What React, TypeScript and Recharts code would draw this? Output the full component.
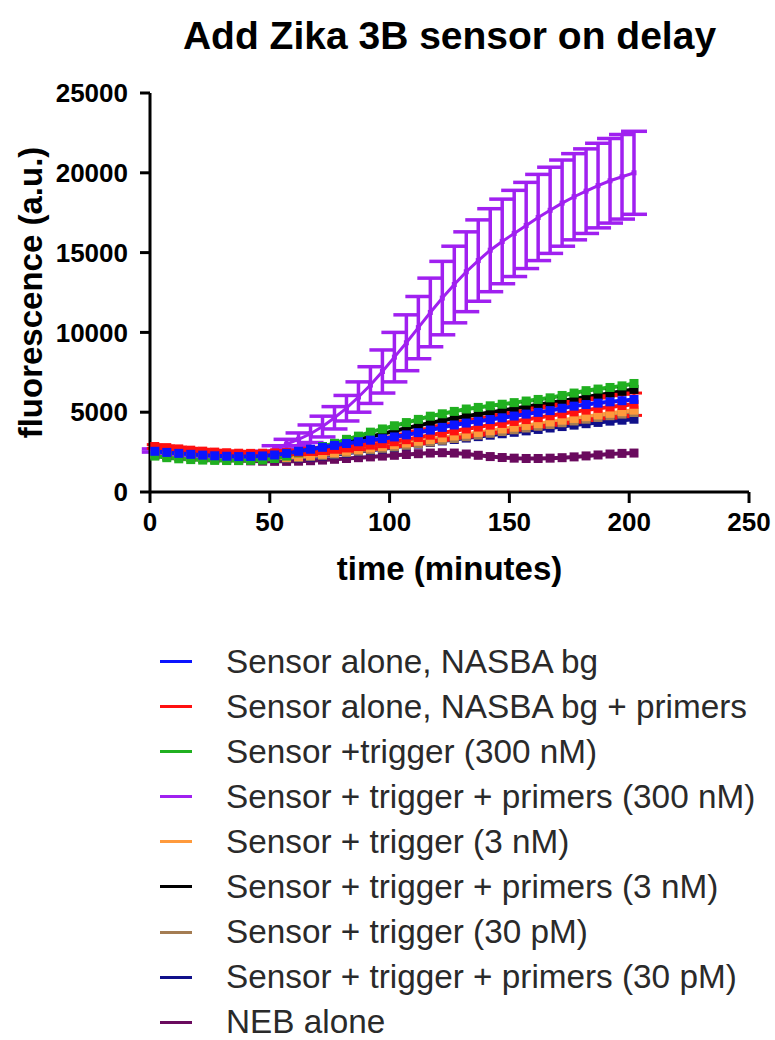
import React from "react";
import { LineChart, Line, XAxis, YAxis, ErrorBar, Legend, Label } from "recharts";

const FONT = "'Liberation Sans', Arial, Helvetica, sans-serif";

// minutes
const times = [
  2, 7, 12, 17, 22, 27, 32, 37, 42, 47, 52, 57, 62, 67, 72, 77, 82, 87, 92, 97, 102,
  107, 112, 117, 122, 127, 132, 137, 142, 147, 152, 157, 162, 167, 172, 177, 182, 187,
  192, 197, 202,
];

const sensorAlone = [
  2550, 2480, 2420, 2360, 2310, 2270, 2240, 2220, 2230, 2260, 2320, 2420, 2550, 2680,
  2800, 2920, 3040, 3150, 3250, 3340, 3450, 3580, 3720, 3880, 4050, 4200, 4320, 4430,
  4540, 4650, 4760, 4880, 4990, 5100, 5250, 5380, 5480, 5570, 5650, 5720, 5800,
];
const sensorPrimers = [
  2850, 2780, 2700, 2620, 2560, 2500, 2460, 2430, 2420, 2430, 2450, 2480, 2500, 2540,
  2600, 2680, 2760, 2850, 2940, 3030, 3150, 3280, 3420, 3560, 3700, 3830, 3950, 4070,
  4190, 4300, 4420, 4540, 4660, 4780, 4900, 5020, 5130, 5240, 5330, 5420, 5500,
];
const sensorPrimersErr = [
  120, 120, 120, 120, 120, 120, 120, 120, 120, 120, 120, 120, 120, 200, 200, 200, 200,
  200, 250, 250, 300, 350, 400, 400, 450, 450, 500, 500, 500, 550, 550, 550, 600, 600,
  600, 650, 650, 650, 700, 700, 700,
];
const trigger300 = [
  2250, 2150, 2080, 2030, 2000, 1980, 1970, 1970, 1980, 2000, 2100, 2250, 2450, 2650,
  2850, 3050, 3300, 3500, 3750, 3950, 4150, 4350, 4550, 4750, 4900, 5050, 5200, 5300,
  5400, 5500, 5600, 5700, 5800, 5900, 6050, 6200, 6350, 6450, 6550, 6650, 6800,
];
const triggerPrimers300 = [
  2600, 2500, 2420, 2360, 2310, 2270, 2250, 2250, 2290, 2420, 2700, 3000, 3300, 3650,
  4100, 4650, 5250, 5950, 6700, 7550, 8450, 9350, 10300, 11250, 12150, 13000, 13800,
  14500, 15150, 15700, 16200, 16700, 17200, 17650, 18100, 18500, 18850, 19200, 19500,
  19750, 20000,
];
const triggerPrimers300Err = [
  100, 90, 80, 80, 80, 80, 80, 90, 100, 130, 200, 300, 400, 550, 650, 700, 800, 950,
  1150, 1350, 1550, 1750, 1950, 2150, 2300, 2400, 2500, 2550, 2600, 2650, 2700, 2700,
  2700, 2700, 2700, 2700, 2650, 2650, 2650, 2650, 2600,
];
const trigger3 = [
  2400, 2320, 2250, 2200, 2160, 2130, 2110, 2100, 2100, 2110, 2130, 2170, 2220, 2290,
  2370, 2460, 2560, 2660, 2760, 2860, 2960, 3070, 3180, 3290, 3400, 3510, 3620, 3730,
  3840, 3950, 4060, 4170, 4280, 4390, 4500, 4610, 4720, 4830, 4930, 5030, 5130,
];
const triggerPrimers3 = [
  2400, 2330, 2270, 2220, 2180, 2150, 2130, 2120, 2130, 2160, 2220, 2320, 2450, 2600,
  2760, 2930, 3100, 3280, 3460, 3640, 3820, 4000, 4170, 4330, 4480, 4620, 4750, 4870,
  4990, 5110, 5230, 5350, 5470, 5590, 5710, 5830, 5950, 6070, 6190, 6310, 6430,
];
const trigger30p = [
  2350, 2280, 2220, 2170, 2130, 2100, 2080, 2070, 2070, 2080, 2100, 2130, 2170, 2230,
  2300, 2380, 2470, 2560, 2650, 2740, 2830, 2930, 3030, 3130, 3240, 3350, 3460, 3570,
  3680, 3790, 3900, 4010, 4120, 4230, 4340, 4450, 4560, 4670, 4780, 4880, 4980,
];
const triggerPrimers30p = [
  2350, 2290, 2230, 2180, 2140, 2110, 2090, 2080, 2080, 2080, 2090, 2110, 2140, 2190,
  2260, 2340, 2430, 2520, 2610, 2700, 2800, 2900, 3000, 3100, 3200, 3290, 3380, 3470,
  3560, 3650, 3740, 3830, 3920, 4010, 4100, 4190, 4280, 4360, 4440, 4500, 4560,
];
const nebAlone = [
  2300, 2250, 2200, 2150, 2100, 2050, 2000, 1970, 1950, 1930, 1920, 1920, 1930, 1960,
  2000, 2050, 2100, 2150, 2200, 2250, 2300, 2350, 2400, 2440, 2460, 2440, 2380, 2300,
  2220, 2160, 2120, 2100, 2100, 2120, 2150, 2200, 2260, 2320, 2380, 2420, 2440,
];

const seriesKeys = ["s1", "s2", "s3", "s4", "s5", "s6", "s7", "s8", "s9"];
const seriesNames = [
  "Sensor alone, NASBA bg",
  "Sensor alone, NASBA bg + primers",
  "Sensor +trigger (300 nM)",
  "Sensor + trigger + primers (300 nM)",
  "Sensor + trigger (3 nM)",
  "Sensor + trigger + primers (3 nM)",
  "Sensor + trigger (30 pM)",
  "Sensor + trigger + primers (30 pM)",
  "NEB alone",
];
const seriesColors = [
  "#0a14ff",
  "#ff1010",
  "#20b020",
  "#a020f0",
  "#ff9a3c",
  "#000000",
  "#a47c52",
  "#10108a",
  "#6a0a5e",
];
const seriesValues = [
  sensorAlone,
  sensorPrimers,
  trigger300,
  triggerPrimers300,
  trigger3,
  triggerPrimers3,
  trigger30p,
  triggerPrimers30p,
  nebAlone,
];

const xTicks = [0, 50, 100, 150, 200, 250];
const yTicks = [0, 5000, 10000, 15000, 20000, 25000];

const data = times.map((t, i) => {
  const row: Record<string, number> = { t, s2err: sensorPrimersErr[i], s4err: triggerPrimers300Err[i] };
  seriesKeys.forEach((k, j) => {
    row[k] = seriesValues[j][i];
  });
  return row;
});

// GraphPad draws the first data set on top, so render in reverse
const drawOrder = [8, 7, 6, 5, 4, 3, 2, 1, 0];

const SquareDot = (size: number) => (props: any) => {
  const { cx, cy, stroke, index } = props;
  if (cx == null || cy == null) return <g key={index} />;
  return <rect key={index} x={cx - size / 2} y={cy - size / 2} width={size} height={size} fill={stroke} />;
};

const YLabel = (props: any) => {
  const { viewBox } = props;
  const cx = 30;
  const cy = viewBox.y + viewBox.height / 2;
  return (
    <text
      x={cx}
      y={cy}
      transform={`rotate(-90 ${cx} ${cy})`}
      textAnchor="middle"
      dominantBaseline="central"
      fontFamily={FONT}
      fontWeight={700}
      fontSize={33}
      fill="#000"
    >
      fluorescence (a.u.)
    </text>
  );
};

const renderLegend = () => (
  <div style={{ fontFamily: FONT, fontSize: 33.3, color: "#2a2a2a" }}>
    {seriesNames.map((name, i) => (
      <div
        key={name}
        style={{
          display: "flex",
          alignItems: "center",
          height: 32,
          lineHeight: "32px",
          marginBottom: i < seriesNames.length - 1 ? 13.1 : 0,
        }}
      >
        <span
          style={{ display: "inline-block", width: 32, height: 3, background: seriesColors[i], marginRight: 34 }}
        />
        <span style={{ whiteSpace: "nowrap" }}>{name}</span>
      </div>
    ))}
  </div>
);

const tickStyle = { fontSize: 26, fontWeight: 700, fill: "#000", fontFamily: FONT };
const axisStroke = { stroke: "#000", strokeWidth: 3 };

export default function App() {
  return (
    <div
      style={{
        position: "absolute",
        left: 0,
        top: 0,
        width: 775,
        height: 1040,
        overflow: "hidden",
        background: "#fff",
        fontFamily: FONT,
      }}
    >
      <div
        style={{
          position: "absolute",
          left: 150,
          width: 599,
          top: 15,
          textAlign: "center",
          fontSize: 39,
          lineHeight: "42px",
          fontWeight: 700,
          color: "#000",
          whiteSpace: "nowrap",
          zIndex: 2,
        }}
      >
        Add Zika 3B sensor on delay
      </div>
      <LineChart width={775} height={1040} data={data} margin={{ top: 93, right: 26, left: 0, bottom: 448 }}>
        <XAxis
          dataKey="t"
          type="number"
          domain={[0, 250]}
          ticks={xTicks}
          interval={0}
          height={100}
          tickSize={11}
          tickMargin={10}
          tick={tickStyle}
          axisLine={axisStroke}
          tickLine={axisStroke}
        >
          <Label
            value="time (minutes)"
            position="insideTop"
            offset={65}
            style={{ fontSize: 33, fontWeight: 700, fill: "#000", fontFamily: FONT }}
          />
        </XAxis>
        <YAxis
          type="number"
          domain={[0, 25000]}
          ticks={yTicks}
          interval={0}
          width={150}
          tickSize={10}
          tickMargin={12}
          tick={tickStyle}
          axisLine={axisStroke}
          tickLine={axisStroke}
        >
          <Label content={YLabel} />
        </YAxis>
        <Legend
          layout="vertical"
          align="center"
          verticalAlign="middle"
          content={renderLegend}
          wrapperStyle={{ left: 160, top: 645.5, width: 610 }}
        />
        {drawOrder.map((j) => {
          const key = seriesKeys[j];
          const color = seriesColors[j];
          const isPurple = j === 3;
          return (
            <Line
              key={key}
              dataKey={key}
              name={seriesNames[j]}
              type="linear"
              stroke={color}
              strokeWidth={isPurple ? 3 : 4}
              dot={SquareDot(isPurple ? 5 : 9)}
              activeDot={false}
              isAnimationActive={false}
            >
              {j === 3 && (
                <ErrorBar dataKey="s4err" width={13} strokeWidth={3.5} stroke={color} isAnimationActive={false} />
              )}
              {j === 1 && (
                <ErrorBar dataKey="s2err" width={8} strokeWidth={3} stroke={color} isAnimationActive={false} />
              )}
            </Line>
          );
        })}
      </LineChart>
    </div>
  );
}
